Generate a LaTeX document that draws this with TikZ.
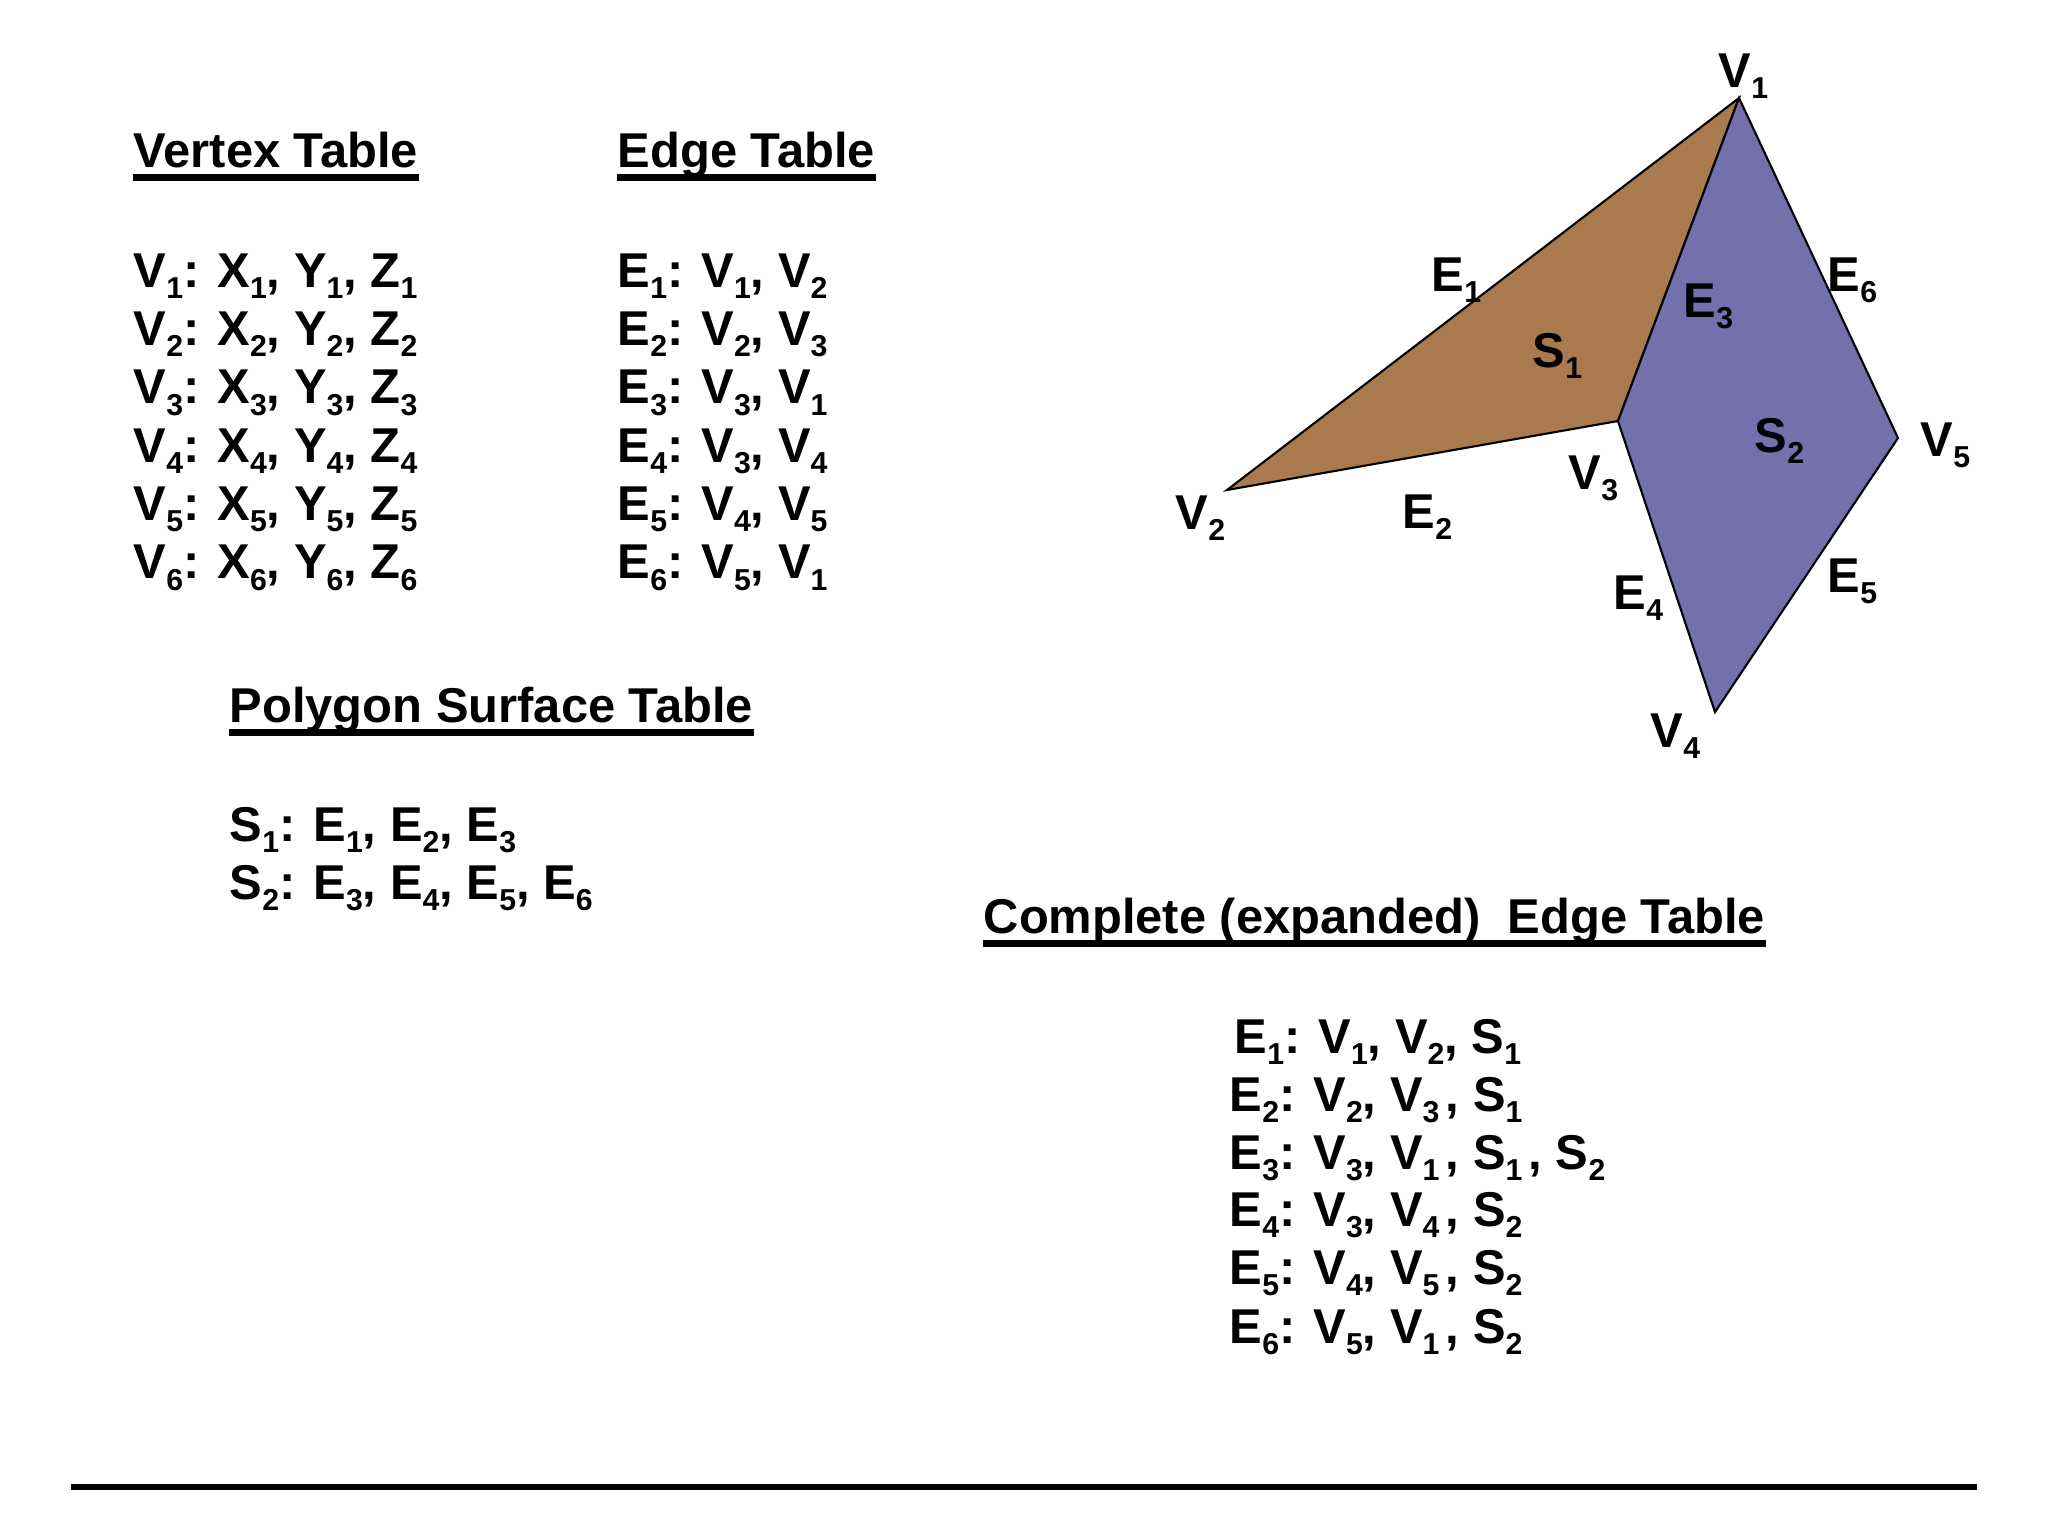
\documentclass[tikz,border=0pt]{standalone}
\usepackage{fontspec}
\setmainfont{Liberation Sans}
\newcommand{\ssb}[1]{\raisebox{-3.3pt}{\fontsize{8.6pt}{9pt}\selectfont #1}}
\newcommand{\hsp}{\hspace{0.13em}}
\definecolor{facebrown}{RGB}{168,122,78}
\definecolor{facepurple}{RGB}{116,112,172}
\tikzset{
  txt/.style={anchor=base west, inner sep=0pt, font=\bfseries\fontsize{13.9pt}{16pt}\selectfont},
  uline/.style={line width=2pt},
  face/.style={draw=black, line width=0.6pt, line join=miter},
  rule/.style={line width=1.7pt},
}
\begin{document}
\begin{tikzpicture}[x=0.01cm,y=-0.01cm]
\useasboundingbox (0,0) rectangle (2048,1536);

% ---- Vertex table
\node[txt] (vth) at (133,167) {Vertex Table};
\draw[uline] ([yshift=-3pt]vth.base west) -- ([yshift=-3pt]vth.base east);
\node[txt] (vr1) at (133,287)   {V\ssb{1}: X\ssb{1}, Y\ssb{1}, Z\ssb{1}};
\node[txt] (vr2) at (133,345.3) {V\ssb{2}: X\ssb{2}, Y\ssb{2}, Z\ssb{2}};
\node[txt] (vr3) at (133,403.7) {V\ssb{3}: X\ssb{3}, Y\ssb{3}, Z\ssb{3}};
\node[txt] (vr4) at (133,462)   {V\ssb{4}: X\ssb{4}, Y\ssb{4}, Z\ssb{4}};
\node[txt] (vr5) at (133,520.3) {V\ssb{5}: X\ssb{5}, Y\ssb{5}, Z\ssb{5}};
\node[txt] (vr6) at (133,578.7) {V\ssb{6}: X\ssb{6}, Y\ssb{6}, Z\ssb{6}};

% ---- Edge table
\node[txt] (eth) at (617,167) {Edge Table};
\draw[uline] ([yshift=-3pt]eth.base west) -- ([yshift=-3pt]eth.base east);
\node[txt] (er1) at (617,287)   {E\ssb{1}: V\ssb{1}, V\ssb{2}};
\node[txt] (er2) at (617,345.3) {E\ssb{2}: V\ssb{2}, V\ssb{3}};
\node[txt] (er3) at (617,403.7) {E\ssb{3}: V\ssb{3}, V\ssb{1}};
\node[txt] (er4) at (617,462)   {E\ssb{4}: V\ssb{3}, V\ssb{4}};
\node[txt] (er5) at (617,520.3) {E\ssb{5}: V\ssb{4}, V\ssb{5}};
\node[txt] (er6) at (617,578.7) {E\ssb{6}: V\ssb{5}, V\ssb{1}};

% ---- Polygon surface table
\node[txt] (pth) at (229,722) {Polygon Surface Table};
\draw[uline] ([yshift=-3pt]pth.base west) -- ([yshift=-3pt]pth.base east);
\node[txt] (sr1) at (229,841) {S\ssb{1}: E\ssb{1}, E\ssb{2}, E\ssb{3}};
\node[txt] (sr2) at (229,899) {S\ssb{2}: E\ssb{3}, E\ssb{4}, E\ssb{5}, E\ssb{6}};

% ---- Complete edge table
\node[txt] (cth) at (983,933) {Complete (expanded)\ \ Edge Table};
\draw[uline] ([yshift=-3pt]cth.base west) -- ([yshift=-3pt]cth.base east);
\node[txt] (cr1) at (1234,1053) {E\ssb{1}: V\ssb{1}, V\ssb{2}, S\ssb{1}};
\node[txt] (cr2) at (1229,1111) {E\ssb{2}: V\ssb{2}, V\ssb{3}\hsp, S\ssb{1}};
\node[txt] (cr3) at (1229,1169) {E\ssb{3}: V\ssb{3}, V\ssb{1}\hsp, S\ssb{1}\hsp, S\ssb{2}};
\node[txt] (cr4) at (1229,1226) {E\ssb{4}: V\ssb{3}, V\ssb{4}\hsp, S\ssb{2}};
\node[txt] (cr5) at (1229,1284) {E\ssb{5}: V\ssb{4}, V\ssb{5}\hsp, S\ssb{2}};
\node[txt] (cr6) at (1229,1343) {E\ssb{6}: V\ssb{5}, V\ssb{1}\hsp, S\ssb{2}};

% ---- Polygon mesh
\coordinate (P1) at (1739,98);
\coordinate (P2) at (1227,490);
\coordinate (P3) at (1618,421);
\coordinate (P4) at (1715,712);
\coordinate (P5) at (1898,438);
\filldraw[face, fill=facebrown] (P1) -- (P2) -- (P3) -- cycle;
\filldraw[face, fill=facepurple] (P1) -- (P3) -- (P4) -- (P5) -- cycle;

\node[txt] (lv1) at (1718,87)  {V\ssb{1}};
\node[txt] (lv2) at (1175,529) {V\ssb{2}};
\node[txt] (lv3) at (1568,489) {V\ssb{3}};
\node[txt] (lv4) at (1650,747) {V\ssb{4}};
\node[txt] (lv5) at (1920,456) {V\ssb{5}};
\node[txt] (le1) at (1431,291) {E\ssb{1}};
\node[txt] (le2) at (1402,528) {E\ssb{2}};
\node[txt] (le3) at (1683,317) {E\ssb{3}};
\node[txt] (le4) at (1613,609) {E\ssb{4}};
\node[txt] (le5) at (1827,592) {E\ssb{5}};
\node[txt] (le6) at (1827,291) {E\ssb{6}};
\node[txt] (ls1) at (1532,367) {S\ssb{1}};
\node[txt] (ls2) at (1754,452) {S\ssb{2}};

% ---- bottom rule
\coordinate (RL) at (71,1487);
\coordinate (RR) at (1977,1487);
\draw[rule] (RL) -- (RR);
\end{tikzpicture}
\end{document}
